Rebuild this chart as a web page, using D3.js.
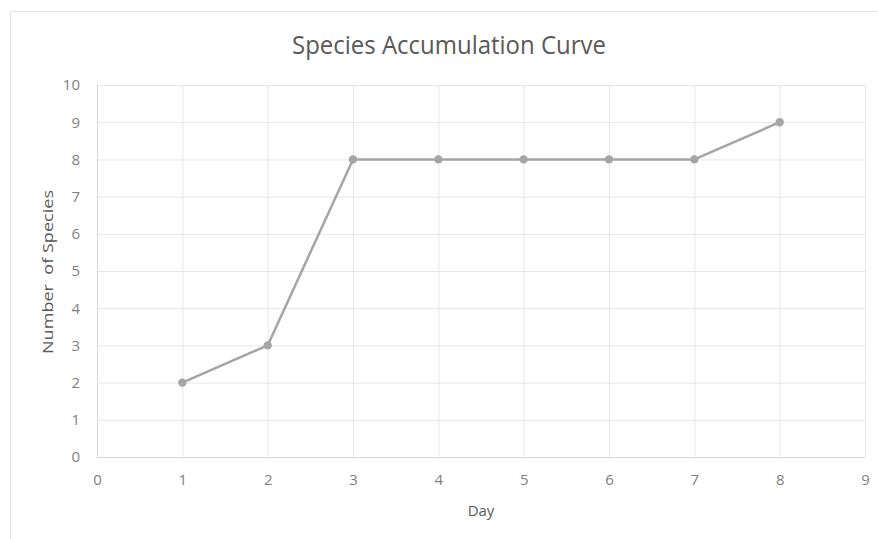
<!DOCTYPE html>
<html>
<head>
<meta charset="utf-8">
<script src="https://cdn.jsdelivr.net/npm/d3@7"></script>
<style>
  body { margin: 0; background: #fff; }
</style>
</head>
<body>
<svg id="chart" width="878" height="539"></svg>
<script>
// Species counted per survey day
const days = [1, 2, 3, 4, 5, 6, 7, 8];
const species = [2, 3, 8, 8, 8, 8, 8, 9];
const xTicks = [0, 1, 2, 3, 4, 5, 6, 7, 8, 9];
const yTicks = [0, 1, 2, 3, 4, 5, 6, 7, 8, 9, 10];

const FONT = "'Open Sans', 'Noto Sans', sans-serif";
const svg = d3.select("#chart");
const plot = { left: 97, right: 865, top: 85, bottom: 457 };

// chart frame
svg.append("rect")
  .attr("x", 10.5).attr("y", 11.5)
  .attr("width", 900).attr("height", 600)
  .attr("fill", "none").attr("stroke", "#e3e3e3");

const x = d3.scaleLinear().domain([0, 9]).range([plot.left, plot.right]);
const y = d3.scaleLinear().domain([0, 10]).range([plot.bottom, plot.top]);

// gridlines
svg.append("g").selectAll("line").data(yTicks).join("line")
  .attr("x1", plot.left).attr("x2", plot.right)
  .attr("y1", d => y(d) + 0.5).attr("y2", d => y(d) + 0.5)
  .attr("stroke", d => d === 0 ? "#d6d6d6" : "#e6e6e6").attr("stroke-width", 1);
svg.append("g").selectAll("line").data(xTicks).join("line")
  .attr("y1", plot.top).attr("y2", plot.bottom)
  .attr("x1", d => x(d) + 0.5).attr("x2", d => x(d) + 0.5)
  .attr("stroke", d => d === 0 ? "#d6d6d6" : "#e6e6e6").attr("stroke-width", 1);

// axes (labels only; lines come from the grid)
const xAxis = svg.append("g").attr("transform", `translate(0,${plot.bottom})`)
  .call(d3.axisBottom(x).tickValues(xTicks).tickSize(0).tickPadding(17));
const yAxis = svg.append("g").attr("transform", `translate(${plot.left},0)`)
  .call(d3.axisLeft(y).tickValues(yTicks).tickSize(0).tickPadding(17));
[xAxis, yAxis].forEach(a => {
  a.select(".domain").remove();
  a.selectAll("text").attr("font-size", 15)
    .attr("font-family", FONT).attr("fill", "#7f7f7f");
});

// series line and markers
svg.append("path")
  .datum(days.map((d, i) => [d, species[i]]))
  .attr("fill", "none").attr("stroke", "#a5a5a5").attr("stroke-width", 2.5)
  .attr("stroke-linejoin", "round")
  .attr("d", d3.line().x(d => x(d[0])).y(d => y(d[1])));
svg.append("g").selectAll("circle").data(days).join("circle")
  .attr("cx", d => x(d)).attr("cy", (d, i) => y(species[i]))
  .attr("r", 4.2).attr("fill", "#a5a5a5");

// titles
svg.append("text").attr("x", 449).attr("y", 54).attr("text-anchor", "middle")
  .attr("font-family", FONT).attr("fill", "#595959")
  .attr("font-size", 26).attr("textLength", 314).attr("lengthAdjust", "spacingAndGlyphs")
  .text("Species Accumulation Curve");
svg.append("text").attr("x", 481).attr("y", 516).attr("text-anchor", "middle")
  .attr("font-family", FONT).attr("fill", "#595959")
  .attr("font-size", 15).text("Day");
svg.append("text").attr("transform", "translate(53,272) rotate(-90)")
  .attr("text-anchor", "middle").attr("font-size", 15)
  .attr("font-family", FONT).attr("fill", "#595959")
  .attr("textLength", 164).attr("lengthAdjust", "spacingAndGlyphs")
  .attr("xml:space", "preserve").text("Number  of Species");
</script>
</body>
</html>
